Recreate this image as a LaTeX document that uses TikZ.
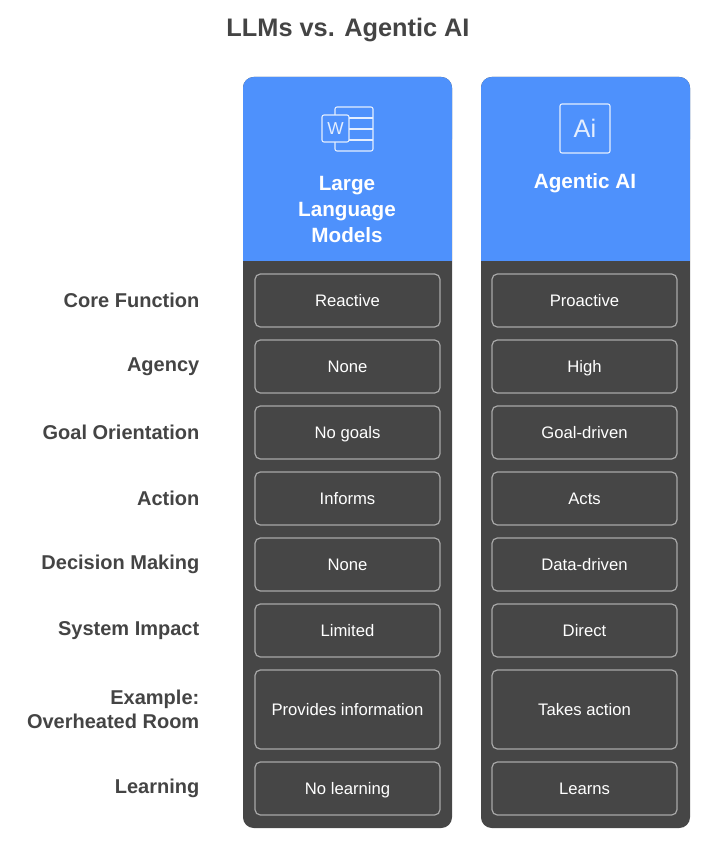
\documentclass[tikz,border=0pt]{standalone}
\usepackage{fontspec}
\setmainfont{Liberation Sans}
\definecolor{hblue}{HTML}{4E91FC}
\definecolor{dgray}{HTML}{464646}
\definecolor{lbl}{HTML}{444444}
\definecolor{bord}{HTML}{A8A8A8}
\begin{document}
\begin{tikzpicture}[x=0.75pt,y=-0.75pt,
  cell/.style={draw=bord,line width=0.9pt,rounded corners=4pt},
  celltxt/.style={text=white,font=\fontsize{12.5}{15}\selectfont,text height=1.6ex,text depth=0.4ex,yshift=-1.5pt},
  rowlbl/.style={anchor=east,text=lbl,font=\bfseries\fontsize{15}{17.5}\selectfont,align=right},
  head/.style={text=white,font=\bfseries\fontsize{15.5}{19.5}\selectfont,align=center},
  icon/.style={draw=white!85!hblue,line width=0.8pt,rounded corners=1.5pt}]
\useasboundingbox (0,0) rectangle (708,852);
\node[text=lbl,font=\bfseries\fontsize{19}{22}\selectfont] (title) at (348,30) {LLMs vs. Agentic AI};
% columns
\foreach \xa/\xb in {243/452,481/690}{
  \fill[dgray,rounded corners=8pt] (\xa,77) rectangle (\xb,828);
  \fill[hblue,rounded corners=8pt] (\xa,77) rectangle (\xb,150);
  \fill[hblue] (\xa,140) rectangle (\xb,261);
}
% icons
\draw[icon] (335,107) rectangle (373,151);
\draw[icon] (349,118) -- (373,118) (349,129) -- (373,129) (349,140) -- (373,140);
\fill[hblue] (322,115) rectangle (349,142);
\draw[icon] (322,115) rectangle (349,142);
\node[text=white!85!hblue,font=\fontsize{13}{13}\selectfont] (wl) at (335.5,128.5) {W};
\draw[icon] (560,104) rectangle (610,153);
\node[text=white!85!hblue,font=\fontsize{19}{19}\selectfont] (ail) at (585,128.5) {Ai};
\node[head] (h1) at (347,209) {Large\\Language\\Models};
\node[head] (h2) at (585,183) {Agentic AI};
% rows
\foreach \i/\ya/\yb/\lab/\l/\r in {
 1/274/327/{Core Function}/Reactive/Proactive,
 2/340/393/Agency/None/High,
 3/406/459/{Goal Orientation}/{No goals}/Goal-driven,
 4/472/525/Action/Informs/Acts,
 5/538/591/{Decision Making}/None/Data-driven,
 6/604/657/{System Impact}/Limited/Direct,
 7/670/749/{Example:\\Overheated Room}/{Provides information}/{Takes action},
 8/762/815/Learning/{No learning}/Learns}{
  \node[rowlbl] (lab\i) at (204,{(\ya+\yb)/2}) {\lab};
  \draw[cell] (255,\ya) rectangle (440,\yb);
  \node[celltxt] (l\i) at (347.5,{(\ya+\yb)/2}) {\l};
  \draw[cell] (492,\ya) rectangle (677,\yb);
  \node[celltxt] (r\i) at (584.5,{(\ya+\yb)/2}) {\r};
}
\end{tikzpicture}
\end{document}
